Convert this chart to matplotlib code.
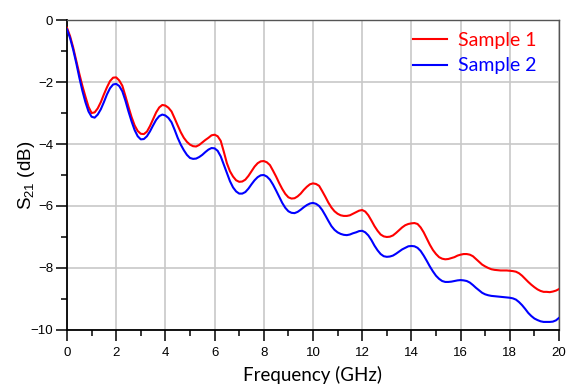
import matplotlib
matplotlib.use("Agg")
import matplotlib.pyplot as plt
from matplotlib.ticker import MultipleLocator

# frequency grid (GHz), every 0.125 GHz
freq = [i * 0.125 for i in range(161)]

sample1 = [-0.25, -0.52, -0.88, -1.3, -1.73, -2.12, -2.47, -2.8, -3.0,
           -2.98, -2.85, -2.65, -2.4, -2.17, -1.97, -1.86, -1.85,
           -1.95, -2.12, -2.45, -2.8, -3.13, -3.4, -3.58, -3.67,
           -3.68, -3.6, -3.42, -3.2, -2.98, -2.82, -2.74, -2.76,
           -2.83, -2.95, -3.17, -3.4, -3.62, -3.8, -3.93, -4.02,
           -4.07, -4.08, -4.03, -3.95, -3.87, -3.8, -3.72, -3.7,
           -3.75, -3.9, -4.25, -4.62, -4.88, -5.05, -5.17, -5.22,
           -5.21, -5.15, -5.03, -4.88, -4.73, -4.62, -4.56, -4.55,
           -4.59, -4.68, -4.86, -5.05, -5.26, -5.45, -5.61, -5.72,
           -5.76, -5.75, -5.69, -5.6, -5.48, -5.38, -5.3, -5.27,
           -5.29, -5.35, -5.52, -5.7, -5.89, -6.05, -6.17, -6.25,
           -6.3, -6.32, -6.32, -6.3, -6.25, -6.2, -6.15, -6.13,
           -6.18, -6.3, -6.47, -6.65, -6.8, -6.92, -6.98, -7.0,
           -6.99, -6.95, -6.87, -6.78, -6.69, -6.62, -6.58, -6.56,
           -6.55, -6.58, -6.69, -6.85, -7.05, -7.25, -7.42, -7.55,
           -7.65, -7.7, -7.72, -7.71, -7.68, -7.65, -7.6, -7.57,
           -7.55, -7.55, -7.57, -7.62, -7.71, -7.8, -7.89, -7.95,
           -8.0, -8.04, -8.06, -8.07, -8.08, -8.08, -8.08, -8.09,
           -8.1, -8.12, -8.17, -8.25, -8.35, -8.45, -8.54, -8.62,
           -8.69, -8.74, -8.77, -8.77, -8.78, -8.76, -8.73, -8.68]

sample2 = [-0.3, -0.58, -0.95, -1.38, -1.85, -2.28, -2.65, -2.95, -3.12,
           -3.15, -3.05, -2.88, -2.65, -2.4, -2.2, -2.08, -2.06,
           -2.13, -2.3, -2.6, -2.95, -3.27, -3.55, -3.75, -3.85,
           -3.84, -3.75, -3.59, -3.4, -3.22, -3.1, -3.05, -3.08,
           -3.16, -3.3, -3.54, -3.8, -4.02, -4.2, -4.35, -4.45,
           -4.48, -4.47, -4.42, -4.35, -4.26, -4.18, -4.13, -4.14,
           -4.22, -4.4, -4.67, -4.95, -5.2, -5.4, -5.53, -5.6,
           -5.6, -5.55, -5.44, -5.3, -5.17, -5.07, -5.01, -5.0,
           -5.05, -5.15, -5.31, -5.5, -5.7, -5.9, -6.06, -6.17,
           -6.22, -6.23, -6.19, -6.12, -6.04, -5.97, -5.92, -5.9,
           -5.93, -6.0, -6.13, -6.3, -6.48, -6.65, -6.77, -6.85,
           -6.9, -6.93, -6.94, -6.92, -6.88, -6.85, -6.81, -6.8,
           -6.85, -6.95, -7.1, -7.28, -7.43, -7.55, -7.62, -7.64,
           -7.63, -7.6, -7.54, -7.47, -7.4, -7.35, -7.3, -7.29,
           -7.3, -7.35, -7.45, -7.6, -7.77, -7.95, -8.11, -8.25,
           -8.35, -8.42, -8.45, -8.45, -8.44, -8.42, -8.4, -8.39,
           -8.4, -8.42, -8.47, -8.55, -8.64, -8.72, -8.8, -8.85,
           -8.88, -8.9, -8.91, -8.92, -8.93, -8.94, -8.95, -8.96,
           -8.98, -9.02, -9.1, -9.2, -9.32, -9.45, -9.55, -9.63,
           -9.68, -9.72, -9.74, -9.74, -9.74, -9.73, -9.69, -9.61]

plt.rcParams['font.family'] = ['Liberation Sans', 'DejaVu Sans']

fig = plt.figure(figsize=(5.71, 3.85), dpi=100)
ax = fig.add_axes([0.1173, 0.1429, 0.979 - 0.1173, 0.948 - 0.1429])

ax.plot(freq, sample1, color='#ff0000', lw=1.5, label='Sample 1', zorder=3)
ax.plot(freq, sample2, color='#0000ff', lw=1.5, label='Sample 2', zorder=3)

ax.set_xlim(0, 20)
ax.set_ylim(-10, 0)
ax.xaxis.set_major_locator(MultipleLocator(2))
ax.xaxis.set_minor_locator(MultipleLocator(1))
ax.yaxis.set_major_locator(MultipleLocator(2))
ax.yaxis.set_minor_locator(MultipleLocator(1))

ax.grid(True, which='major', color='#c8c8c8', lw=1.2)
ax.set_axisbelow(True)

ax.tick_params(which='major', direction='out', length=8, width=1.1,
               labelsize=9.5)
ax.tick_params(axis='x', which='major', pad=4)
ax.tick_params(axis='y', which='major', pad=2)
ax.tick_params(which='minor', direction='out', length=4.5, width=1.1)
ax.tick_params(axis='x', which='both', top=False)
ax.tick_params(axis='y', which='both', right=False)

for side in ['left', 'bottom']:
    ax.spines[side].set_linewidth(1.3)
    ax.spines[side].set_color('black')
for side in ['top', 'right']:
    ax.spines[side].set_linewidth(1.0)
    ax.spines[side].set_color('#555555')

ax.set_xlabel('Frequency (GHz)', fontsize=13.5, family=['Lato', 'DejaVu Sans'],
              labelpad=5.5)
ax.set_ylabel(r'$\mathregular{S_{21}}$ (dB)', fontsize=13.5, labelpad=-5)

leg = ax.legend(loc='upper right', bbox_to_anchor=(0.978, 1.0),
                borderaxespad=0.2, frameon=False,
                handlelength=1.75, handletextpad=0.57,
                labelspacing=0.45, labelcolor='linecolor',
                prop={'family': ['Lato', 'DejaVu Sans'], 'size': 14})

fig.savefig('out.png', dpi=100)
